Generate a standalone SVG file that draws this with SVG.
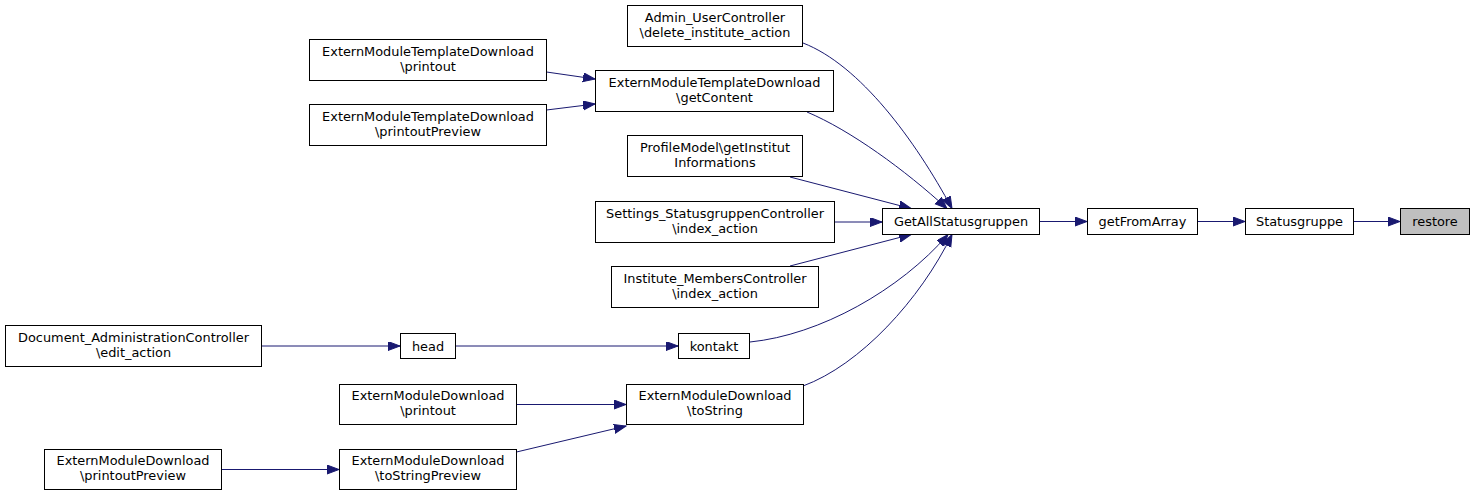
<svg xmlns="http://www.w3.org/2000/svg" width="1475" height="496" viewBox="0 0 1475 496">
<style>
  .n rect { fill: #ffffff; stroke: #000000; stroke-width: 1; }
  .n.focus rect { fill: #bfbfbf; }
  .n text { font-family: "DejaVu Sans", "Liberation Sans", sans-serif; font-size: 12.9px; text-anchor: middle; fill: #000000; }
  .e path { fill: none; stroke: #191970; stroke-width: 1; marker-end: url(#arr); }
</style>
<defs>
  <marker id="arr" markerUnits="userSpaceOnUse" markerWidth="14" markerHeight="11" refX="12" refY="4.5" orient="auto">
    <path d="M0,0 L12,4.5 L0,9 Z" fill="#191970" stroke="#191970" stroke-width="1"/>
  </marker>
</defs>
<rect x="0" y="0" width="1475" height="496" fill="#ffffff"/>
<g id="edges" class="e">
  <path d="M1353.5,221.5 L1400,221.5"/>
  <path d="M1197.5,221.5 L1245,221.5"/>
  <path d="M1039.5,221.5 L1087,221.5"/>
  <path d="M834.5,222 L882,222"/>
  <path d="M803,43 C860,65 915,140 952,208.5"/>
  <path d="M807,112 C850,130 905,170 947,208.5"/>
  <path d="M790,177 L911,208.5"/>
  <path d="M790,266 L911,234.5"/>
  <path d="M750,342 C820,335 900,290 948,234.5"/>
  <path d="M803,386 C860,365 920,300 952,234.5"/>
  <path d="M546.5,72 L595,79"/>
  <path d="M546.5,110 L595,104"/>
  <path d="M261.5,346 L400,346"/>
  <path d="M455.5,346 L678,346"/>
  <path d="M516.5,404.5 L626,404.5"/>
  <path d="M516.5,452 L626,426"/>
  <path d="M221.5,469.5 L339,469.5"/>
</g>
<g id="restore" class="n focus"><rect x="1400.5" y="208.5" width="69" height="26"/><text x="1435" y="226">restore</text></g>
<g id="Statusgruppe" class="n"><rect x="1245.5" y="208.5" width="108" height="26"/><text x="1299.5" y="226">Statusgruppe</text></g>
<g id="getFromArray" class="n"><rect x="1087.5" y="208.5" width="110" height="26"/><text x="1142.5" y="226">getFromArray</text></g>
<g id="GetAllStatusgruppen" class="n"><rect x="882.5" y="208.5" width="157" height="26"/><text x="961" y="226">GetAllStatusgruppen</text></g>
<g id="Admin_UserController" class="n"><rect x="627.5" y="5.5" width="175" height="41"/><text x="715" y="22">Admin_UserController</text><text x="715" y="37">\delete_institute_action</text></g>
<g id="EMTD_getContent" class="n"><rect x="595.5" y="70.5" width="238" height="41"/><text x="714.5" y="87">ExternModuleTemplateDownload</text><text x="714.5" y="102">\getContent</text></g>
<g id="ProfileModel" class="n"><rect x="627.5" y="135.5" width="175" height="41"/><text x="715" y="152">ProfileModel\getInstitut</text><text x="715" y="167">Informations</text></g>
<g id="Settings_StatusgruppenController" class="n"><rect x="595.5" y="201.5" width="239" height="41"/><text x="715" y="218">Settings_StatusgruppenController</text><text x="715" y="233">\index_action</text></g>
<g id="Institute_MembersController" class="n"><rect x="611.5" y="266.5" width="207" height="41"/><text x="715" y="283">Institute_MembersController</text><text x="715" y="298">\index_action</text></g>
<g id="EMTD_printout" class="n"><rect x="309.5" y="39.5" width="237" height="41"/><text x="428" y="56">ExternModuleTemplateDownload</text><text x="428" y="71">\printout</text></g>
<g id="EMTD_printoutPreview" class="n"><rect x="309.5" y="104.5" width="237" height="41"/><text x="428" y="121">ExternModuleTemplateDownload</text><text x="428" y="136">\printoutPreview</text></g>
<g id="Document_AdministrationController" class="n"><rect x="5.5" y="325.5" width="256" height="41"/><text x="133.5" y="342">Document_AdministrationController</text><text x="133.5" y="357">\edit_action</text></g>
<g id="head" class="n"><rect x="400.5" y="333.5" width="55" height="25"/><text x="428" y="350.5">head</text></g>
<g id="kontakt" class="n"><rect x="678.5" y="333.5" width="71" height="25"/><text x="714" y="350.5">kontakt</text></g>
<g id="EMD_toString" class="n"><rect x="626.5" y="384.5" width="177" height="40"/><text x="715" y="400">ExternModuleDownload</text><text x="715" y="415">\toString</text></g>
<g id="EMD_printout" class="n"><rect x="339.5" y="384.5" width="177" height="40"/><text x="428" y="400">ExternModuleDownload</text><text x="428" y="415">\printout</text></g>
<g id="EMD_toStringPreview" class="n"><rect x="339.5" y="449.5" width="177" height="40"/><text x="428" y="465">ExternModuleDownload</text><text x="428" y="480">\toStringPreview</text></g>
<g id="EMD_printoutPreview" class="n"><rect x="44.5" y="449.5" width="177" height="40"/><text x="133" y="465">ExternModuleDownload</text><text x="133" y="480">\printoutPreview</text></g>
</svg>
